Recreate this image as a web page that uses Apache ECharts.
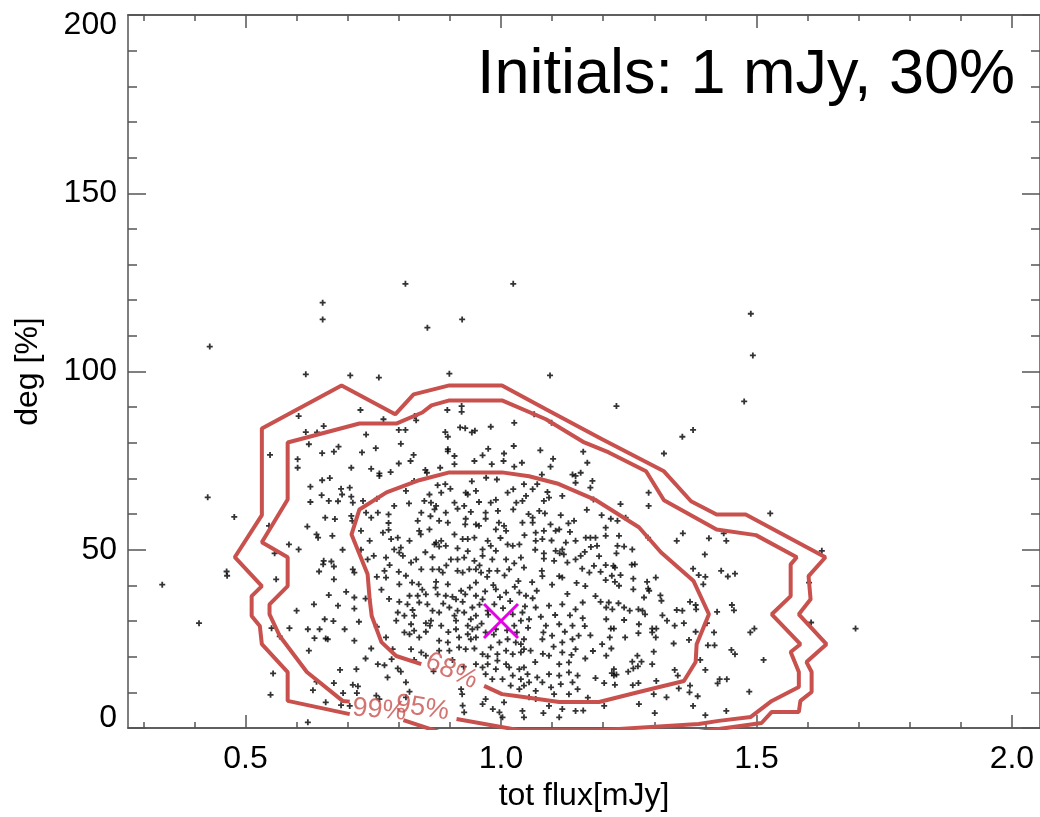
<!DOCTYPE html>
<html><head><meta charset="utf-8">
<script src="https://cdn.jsdelivr.net/npm/echarts@6/dist/echarts.min.js"></script>
<style>html,body{margin:0;padding:0;background:#fff}#c{width:1040px;height:817px}</style>
</head><body><div id="c"></div>
<script>
const X_MIN = 0.27, X_MAX = 2.055, Y_MIN = 0, Y_MAX = 200;
const xMajorTicks = [0.5, 1.0, 1.5, 2.0];
const xMinorTicks = [0.3,0.4,0.6,0.7,0.8,0.9,1.1,1.2,1.3,1.4,1.6,1.7,1.8,1.9];
const titleText = 'Initials: 1 mJy, 30%';
const xName = 'tot flux[mJy]';
const yName = 'deg [%]';
const initialPoint = [[1.0, 30]];

const contour68 = [[0.967,11.8],[1.002,9.5],[1.03,9.0],[1.114,7.3],[1.192,7.3],[1.27,10.1],[1.358,13.2],[1.381,18.5],[1.383,23.5],[1.407,31.9],[1.377,41.2],[1.313,49.3],[1.27,56.3],[1.186,63.9],[1.11,68.6],[1.055,70.6],[1.002,71.7],[0.899,71.7],[0.84,69.5],[0.776,66.1],[0.723,61.3],[0.7075,54.3],[0.739,43.1],[0.743,36.1],[0.747,31.4],[0.766,24.1],[0.795,20.2],[0.844,17.9]];
const contour95 = [[0.913,2.5],[1.036,-0.6],[1.192,-0.6],[1.387,1.1],[1.426,2.0],[1.489,3.1],[1.53,7.6],[1.583,11.5],[1.583,15.7],[1.567,21.3],[1.586,23.5],[1.53,31.9],[1.567,37.0],[1.567,45.9],[1.579,47.9],[1.499,54.1],[1.422,55.7],[1.319,63.9],[1.284,72.0],[1.211,77.3],[1.163,80.1],[1.088,86.6],[1.002,91.9],[0.899,91.9],[0.864,90.5],[0.846,88.5],[0.795,85.4],[0.723,85.4],[0.5825,80.1],[0.5825,64.1],[0.532,52.1],[0.5825,47.9],[0.5825,39.8],[0.547,34.7],[0.547,31.9],[0.567,25.8],[0.62,15.7],[0.69,7.6],[0.704,7.4]];
const contour99 = [[0.809,2.2],[0.879,-1.1],[1.387,-1.1],[1.426,-0.3],[1.51,1.4],[1.53,4.5],[1.583,4.5],[1.586,7.6],[1.608,10.1],[1.608,15.7],[1.598,18.5],[1.637,23.5],[1.583,31.9],[1.606,36.1],[1.602,42.6],[1.635,47.9],[1.479,59.9],[1.422,59.9],[1.372,63.6],[1.319,72.0],[1.198,81.0],[1.088,89.4],[1.002,96.1],[0.899,96.1],[0.829,93.6],[0.793,88.0],[0.688,96.1],[0.532,84.0],[0.532,59.7],[0.479,47.9],[0.532,39.8],[0.512,37.0],[0.512,31.4],[0.528,28.6],[0.532,23.5],[0.5825,15.7],[0.5825,7.6],[0.704,3.9]];
const contourLabelText = ['68%', '95%', '99%'];
const contourLabelPos = [[0.903,16.0],[0.846,5.6],[0.762,5.0]];
const contourLabelRot = [-24, -9, -5];

const ptsOutliers = [[0.337,40.2],[0.409,29.4],[0.430,107.0],[0.426,64.7],[0.478,59.2],[0.463,43.9],[0.464,42.7],[0.549,9.3],[0.554,15.3],[0.622,1.6],[0.651,119.3],[0.651,114.6],[0.813,124.6],[0.856,112.3],[0.924,114.6],[1.024,124.6],[1.489,116.2],[1.493,104.5],[1.476,91.6],[1.226,90.3],[1.096,98.9],[0.618,99.2],[0.705,98.9],[0.761,98.3],[0.899,99.4],[1.355,81.7],[1.376,83.6],[1.319,77.0],[1.527,60.2],[1.628,49.7],[1.694,27.9]];
const ptsNW = [[0.604,87.5],[0.725,89.2],[0.770,86.6],[0.831,87.5],[0.834,86.3],[0.923,90.3],[0.923,88.7],[0.895,89.2],[0.548,76.6],[0.618,83.0],[0.640,82.9],[0.653,84.7],[0.624,79.6],[0.602,75.4],[0.602,73.0],[0.546,56.7],[0.650,77.1],[0.673,77.5],[0.682,78.9],[0.728,77.3],[0.755,78.5],[0.736,82.3],[0.800,83.6],[0.813,83.6],[0.804,79.7],[0.829,76.6],[0.896,78.2],[0.896,77.6],[0.909,76.3],[0.891,83.0],[0.896,81.7],[0.920,84.3],[0.930,84.1],[0.943,82.9],[0.949,83.4],[0.650,69.5],[0.665,70.1],[0.627,67.7],[0.649,65.3],[0.627,63.4],[0.663,63.7],[0.681,63.6],[0.656,59.0],[0.675,58.6],[0.621,56.5]];
const ptsNE = [[0.980,84.5],[1.026,85.6],[1.065,88.0],[1.099,85.6],[0.975,78.3],[1.025,79.1],[1.077,77.9],[1.161,77.5],[0.964,76.5],[1.006,77.0],[1.102,75.5],[0.971,70.2],[0.992,69.7]];
const ptsE = [[1.097,73.3],[1.169,74.4],[1.080,71.1],[1.140,71.1],[1.146,70.7],[1.156,71.6],[1.146,68.8],[1.179,69.3],[1.175,67.4],[1.071,68.4],[1.062,67.0],[1.289,66.0],[1.289,62.3],[1.234,62.8],[1.244,59.0],[1.091,66.2],[1.094,64.6],[1.084,63.7],[1.120,65.1],[1.181,64.1],[1.075,60.9],[1.086,60.2],[1.117,59.7],[1.062,59.0],[1.062,57.6],[1.097,57.1],[1.132,57.4],[1.143,58.1],[1.215,58.7],[1.228,58.1],[1.205,56.2],[1.114,55.7],[1.107,55.3],[1.084,55.3],[1.068,54.8],[1.166,53.4],[1.175,53.4],[1.185,53.4],[1.188,51.1],[1.146,52.5],[1.127,52.0],[1.081,53.0],[1.068,52.5],[1.067,50.0],[1.084,49.0],[1.107,49.7],[1.120,50.1],[1.115,49.0],[1.123,48.7],[1.164,49.4],[1.146,47.3],[1.156,48.3],[1.084,47.5],[1.104,46.9],[1.130,46.4],[1.182,45.5],[1.080,44.1],[1.081,42.6],[1.114,42.6],[1.120,42.2],[1.159,44.7]];
const ptsCenterUpper = [[0.707,73.0],[0.746,72.7],[0.762,71.4],[0.762,70.7],[0.784,71.8],[0.800,74.2],[0.823,74.9],[0.852,72.4],[0.855,71.6],[0.881,73.0],[0.909,74.0],[0.948,74.9],[0.982,74.0],[1.005,74.9],[1.026,73.3],[1.041,74.4],[0.687,67.1],[0.704,67.4],[0.689,65.5],[0.707,64.9],[0.710,63.2],[0.730,63.7],[0.707,59.5],[0.709,58.1],[0.726,55.3],[0.690,50.0],[0.726,50.0],[0.739,47.3],[0.751,48.3],[0.775,47.8],[0.710,44.5],[0.713,43.6],[0.736,60.4],[0.746,59.0],[0.759,60.4],[0.780,59.9],[0.791,62.3],[0.814,66.5],[0.830,69.3],[0.844,60.4],[0.860,65.5],[0.870,61.3],[0.873,62.3],[0.876,68.1],[0.891,68.4],[0.901,67.1],[0.883,66.0],[0.863,63.2],[0.850,63.7],[0.892,60.4],[0.879,58.1],[0.896,57.6],[0.909,63.2],[0.931,66.0],[0.935,65.5],[0.951,66.5],[0.928,62.3],[0.957,63.4],[0.980,63.2],[0.990,64.0],[0.970,60.4],[0.941,60.6],[0.951,57.1],[0.957,56.7],[0.996,57.6],[1.006,56.7],[1.010,55.3],[0.990,55.7],[0.930,57.1],[0.931,58.7],[0.970,58.7],[1.024,61.3],[1.042,63.7],[1.049,65.1],[1.013,66.0],[1.045,68.4],[1.024,67.0],[1.042,57.6],[0.769,54.8],[0.780,55.6],[0.798,53.4],[0.804,50.6],[0.791,50.1],[0.801,49.2],[0.808,48.3],[0.785,53.0],[0.821,52.5],[0.840,55.3],[0.860,55.7],[0.843,54.3],[0.870,51.5],[0.879,50.9],[0.873,52.0],[0.883,52.5],[0.892,51.1],[0.909,54.3],[0.925,53.0],[0.935,53.0],[0.948,53.4],[0.974,52.5],[0.980,51.1],[0.964,50.1],[0.990,49.7],[1.013,51.5],[1.023,51.1],[1.036,51.5],[0.902,47.3],[0.915,47.3],[0.928,47.8],[0.948,46.9],[0.964,48.3],[0.983,47.3],[1.010,47.3],[1.039,47.8],[0.866,44.5],[0.879,44.5],[0.886,43.6],[0.915,44.1],[0.925,43.6],[0.938,44.5],[0.951,44.5],[0.961,43.6],[0.977,44.1],[0.993,44.1],[1.016,44.5],[1.045,45.0],[0.834,47.3],[0.824,46.4],[0.844,44.5],[0.743,52.5],[0.782,45.7],[0.800,43.8],[0.772,44.1],[0.757,42.4],[0.775,42.2],[0.814,42.7]];
const ptsW = [[0.557,49.0],[0.560,41.7],[0.585,51.5],[0.604,50.1],[0.639,54.3],[0.642,53.4],[0.670,53.9],[0.653,46.9],[0.652,45.9],[0.668,46.7],[0.673,45.3],[0.644,43.9],[0.673,41.7],[0.663,37.3],[0.634,34.7],[0.600,32.9],[0.681,34.3],[0.655,30.5],[0.672,30.0],[0.622,27.7],[0.645,27.7],[0.657,25.1],[0.661,24.9],[0.635,25.2],[0.586,28.0],[0.551,28.0],[0.567,25.7],[0.624,21.7],[0.685,16.3],[0.673,12.6],[0.691,9.8],[0.718,9.8],[0.632,10.6],[0.639,13.0],[0.657,7.2]];
const ptsCenterLower = [[0.697,38.2],[0.713,36.6],[0.735,36.3],[0.713,33.5],[0.722,29.8],[0.694,27.7],[0.713,24.5],[0.746,22.3],[0.735,19.5],[0.788,22.1],[0.759,17.9],[0.772,17.6],[0.717,16.5],[0.798,16.7],[0.804,15.8],[0.778,14.2],[0.710,12.1],[0.720,11.7],[0.814,12.8],[0.756,9.1],[0.801,40.3],[0.826,40.8],[0.839,40.3],[0.873,41.0],[0.896,40.3],[0.922,38.5],[0.930,37.5],[0.951,40.8],[0.985,40.1],[0.990,38.9],[1.010,38.0],[1.036,38.0],[1.049,37.1],[0.821,37.1],[0.837,37.1],[0.853,37.5],[0.801,35.4],[0.817,34.7],[0.840,35.2],[0.856,34.7],[0.866,32.9],[0.879,32.4],[0.899,33.8],[0.915,32.9],[0.909,31.5],[0.928,32.4],[0.941,30.5],[0.951,31.5],[0.912,30.1],[0.798,32.4],[0.811,31.5],[0.830,31.5],[0.795,30.1],[0.824,29.1],[0.863,30.1],[0.861,28.7],[0.883,28.7],[0.912,27.7],[0.935,28.7],[0.944,27.7],[0.954,28.2],[0.811,26.8],[0.821,26.3],[0.830,27.3],[0.853,27.0],[0.840,25.4],[0.879,24.5],[0.896,24.0],[0.918,25.4],[0.935,26.3],[0.941,24.9],[0.951,25.4],[0.824,22.1],[0.844,21.2],[0.853,20.3],[0.879,21.7],[0.899,21.7],[0.918,22.6],[0.931,22.1],[0.948,22.3],[0.964,20.7],[0.974,20.1],[0.980,22.6],[0.993,20.7],[1.010,21.7],[1.023,20.7],[1.039,21.2],[1.045,22.1],[1.039,23.5],[1.029,24.0],[1.045,24.9],[1.013,24.9],[0.997,24.0],[0.970,26.8],[0.990,27.7],[1.026,28.7],[1.039,30.1],[1.023,31.9],[1.042,32.4],[0.974,32.9],[0.987,34.7],[0.964,36.1],[0.951,37.1],[0.912,36.1],[0.892,37.1],[0.876,37.5],[0.951,17.9],[0.964,17.0],[0.974,17.9],[0.990,16.5],[0.993,18.9],[1.010,17.9],[1.016,17.0],[1.023,14.7],[1.036,16.5],[1.045,17.0],[1.039,13.7],[1.003,13.7],[0.983,13.7],[0.970,15.1],[1.019,11.9],[1.036,10.9],[1.045,11.9]];
const ptsS = [[0.687,6.4],[0.704,6.2],[0.762,8.1],[0.814,8.6],[0.821,10.2],[0.922,10.9],[0.924,9.5],[0.925,6.3],[0.928,4.4],[0.964,6.7],[0.970,8.1],[0.984,5.3],[0.997,4.4],[1.003,3.0],[1.006,7.2],[1.042,4.8],[1.045,3.0],[1.068,8.1],[1.094,6.2],[1.114,3.0],[1.120,5.3],[1.146,4.8],[1.055,12.8],[1.068,10.4],[1.081,12.8],[1.098,11.4],[1.117,12.3],[1.140,12.8],[1.150,10.9],[1.133,9.5],[1.104,9.5],[1.052,15.1],[1.071,14.2],[1.094,15.1],[1.114,14.7],[1.133,15.6],[1.150,14.7],[1.114,17.9],[1.133,18.4],[1.094,20.3],[1.120,21.2],[1.146,22.1],[1.081,24.9],[1.100,25.9],[1.120,24.0],[1.140,24.9],[1.088,28.7],[1.114,29.1],[1.140,28.7],[1.055,30.5],[1.068,33.8],[1.094,34.3],[1.120,34.7],[1.146,33.3],[1.070,38.5],[1.100,40.2],[1.130,37.6],[1.165,39.8],[1.185,37.0],[1.160,30.8],[1.175,26.0],[1.165,19.5],[1.185,14.0],[1.170,8.5],[1.180,21.6],[1.160,35.2]];
const ptsSE = [[1.356,54.6],[1.344,52.5],[1.407,53.2],[1.436,54.6],[1.441,52.5],[1.399,48.7],[1.431,44.1],[1.444,42.5],[1.458,43.3],[1.376,44.7],[1.387,42.9],[1.400,42.4],[1.396,40.3],[1.370,35.4],[1.381,34.5],[1.382,33.3],[1.423,32.6],[1.452,34.5],[1.456,33.0],[1.603,40.8],[1.607,29.6],[1.496,27.9],[1.488,26.8],[1.381,27.0],[1.403,29.4],[1.417,26.8],[1.405,23.2],[1.418,23.2],[1.390,19.1],[1.400,16.3],[1.451,21.9],[1.458,20.7],[1.514,19.1],[1.442,13.7],[1.428,13.7],[1.424,12.5],[1.486,10.2],[1.370,11.9],[1.369,10.0],[1.385,8.9],[1.376,6.2],[1.400,3.6],[1.441,4.8],[1.348,11.1],[1.340,16.3],[1.346,14.7],[1.299,9.5],[1.324,8.6],[1.301,4.2],[1.270,6.7],[1.202,6.2],[1.288,53.4],[1.205,53.9],[1.231,53.9],[1.228,51.1],[1.241,50.9],[1.257,50.1],[1.226,49.0],[1.256,45.8],[1.262,45.9],[1.220,45.5],[1.223,45.0],[1.205,45.7],[1.195,43.8],[1.217,42.7],[1.234,42.9],[1.205,41.5],[1.223,41.0],[1.231,39.9],[1.259,41.9],[1.259,38.9],[1.286,41.0],[1.303,42.2],[1.288,39.1],[1.290,38.5],[1.312,37.2],[1.314,35.7],[1.280,36.6],[1.195,35.4],[1.211,35.2],[1.230,35.0],[1.206,33.8],[1.241,33.8],[1.269,33.3],[1.277,32.9],[1.252,32.9],[1.218,33.3],[1.282,31.9],[1.316,31.6],[1.344,33.1],[1.355,32.9],[1.325,30.1],[1.340,28.7],[1.358,29.4],[1.270,29.1],[1.206,30.5],[1.241,30.3],[1.215,27.9],[1.221,27.9],[1.269,26.6],[1.296,27.9],[1.296,26.8],[1.304,27.9],[1.303,25.4],[1.243,25.4],[1.213,25.4],[1.198,23.5],[1.216,22.3],[1.206,20.3],[1.338,23.7],[1.368,24.7],[1.299,21.4],[1.267,20.3],[1.257,18.6],[1.275,18.6],[1.268,17.3],[1.259,16.7],[1.296,17.9],[1.249,15.8],[1.221,16.5],[1.217,15.4],[1.221,14.7],[1.226,15.0],[1.202,12.6],[1.223,12.1],[1.258,12.0],[1.269,12.6],[1.304,13.2]];
const ptsCoreExtra = [[0.962,29.3],[0.975,31.8],[0.986,26.2],[1.004,33.6],[1.012,27.4],[1.018,35.6],[1.031,26.8],[1.047,34.1],[1.053,28.1],[0.958,34.6],[0.944,33.8],[0.969,38.3],[0.998,36.7],[1.027,39.6],[1.062,36.4],[1.078,31.2],[1.083,26.8],[1.106,31.7],[1.125,27.0],[1.135,31.6],[1.152,25.9],[1.164,28.6],[1.082,20.8],[1.103,22.8],[1.058,21.7],[1.067,18.5],[1.138,20.5],[0.905,36.8],[0.887,34.9],[0.872,39.4],[0.846,38.8],[0.827,33.1],[0.853,29.4],[0.897,26.9],[0.925,35.4],[0.939,39.4],[1.007,42.8],[1.034,41.2],[0.973,42.4],[0.958,45.6],[1.026,46.2],[1.061,40.9],[1.148,40.7],[1.173,43.6],[1.192,48.2],[1.176,50.8],[1.135,55.0],[1.099,52.6],[0.935,49.6],[0.915,50.4],[0.852,49.3],[0.866,47.9],[0.893,45.6],[0.999,53.3],[1.046,54.1],[0.837,58.1],[0.862,59.4],[0.915,61.5],[0.994,60.9],[1.054,60.0],[0.820,63.0],[0.780,57.5],[0.757,64.3],[0.943,69.2],[1.030,63.2],[1.168,61.2],[1.197,59.7],[0.766,38.8],[0.781,36.2],[0.757,28.4],[0.775,25.4],[0.786,19.3],[0.830,19.1],[0.868,15.9],[0.905,19.1],[0.927,17.2],[1.055,8.6],[1.083,4.2],[1.161,4.9]];

const FONT = '"Liberation Sans", Arial, Helvetica, sans-serif';
const RED = '#c8514e';
const AX = '#555';
const allPoints = [].concat(ptsOutliers, ptsNW, ptsNE, ptsE, ptsCenterUpper, ptsW, ptsCenterLower, ptsS, ptsSE, ptsCoreExtra);

const chart = echarts.init(document.getElementById('c'), null, {renderer: 'canvas'});
const axLine = {show: true, onZero: false, lineStyle: {color: AX, width: 1.5}};
function xAx(pos, ticks, len, labels) {
  return {
    type: 'value', position: pos, min: X_MIN, max: X_MAX, gridIndex: 0,
    axisLine: axLine, splitLine: {show: false},
    axisTick: {show: true, inside: true, length: len, customValues: ticks, lineStyle: {color: AX, width: 1.5}},
    axisLabel: labels ? {show: true, customValues: ticks, formatter: v => v.toFixed(1), fontSize: 32, margin: 15, color: '#000', fontFamily: FONT} : {show: false},
    name: labels ? xName : '', nameLocation: 'middle', nameGap: 52,
    nameTextStyle: {fontSize: 32, color: '#000', fontFamily: FONT}
  };
}
function yAx(pos, labels) {
  return {
    type: 'value', position: pos, min: Y_MIN, max: Y_MAX, interval: 50,
    axisLine: axLine, splitLine: {show: false},
    axisTick: {show: true, inside: true, length: 18, lineStyle: {color: AX, width: 1.5}},
    minorTick: {show: true, splitNumber: 5, length: 9, lineStyle: {color: AX, width: 1.5}},
    axisLabel: labels ? {show: true, fontSize: 32, lineHeight: 20, margin: 11, color: '#000', fontFamily: FONT, verticalAlignMinLabel: 'bottom', verticalAlignMaxLabel: 'top'} : {show: false},
    name: labels ? yName : '', nameLocation: 'middle', nameGap: 84,
    nameTextStyle: {fontSize: 32, color: '#000', fontFamily: FONT}
  };
}

const labelData = contourLabelText.map((t, i) => ({
  value: contourLabelPos[i],
  label: {show: true, formatter: t, rotate: contourLabelRot[i], position: 'inside'}
}));

chart.setOption({
  animation: false,
  backgroundColor: '#fff',
  grid: {left: 128, top: 15, right: -2, bottom: 88, containLabel: false},
  xAxis: [xAx('bottom', xMajorTicks, 13, true), xAx('bottom', xMinorTicks, 6, false), xAx('top', xMajorTicks, 13, false), xAx('top', xMinorTicks, 6, false)],
  yAxis: [yAx('left', true), yAx('right', false)],
  graphic: [{type: 'text', right: 25, top: 44, style: {text: titleText, font: 'normal 63px ' + FONT, fill: '#000'}}],
  series: [
    {type: 'scatter', data: allPoints, symbol: 'path://M3.5,0H6.5V3.5H10V6.5H6.5V10H3.5V6.5H0V3.5H3.5Z', symbolSize: 6, itemStyle: {color: '#000'}, silent: true, z: 2},
    {type: 'line', data: contour68, showSymbol: false, clip: true, lineStyle: {color: RED, width: 4}, silent: true, z: 3},
    {type: 'line', data: contour95, showSymbol: false, clip: true, lineStyle: {color: RED, width: 4}, silent: true, z: 3},
    {type: 'line', data: contour99, showSymbol: false, clip: true, lineStyle: {color: RED, width: 4}, silent: true, z: 3},
    {type: 'scatter', data: labelData, symbolSize: 0, silent: true, z: 4,
      label: {show: true, color: RED, fontSize: 27, fontFamily: FONT}},
    {type: 'custom', data: initialPoint, silent: true, z: 5,
      renderItem: (params, api) => {
        const p = api.coord([api.value(0), api.value(1)]);
        const s = 17;
        const st = {stroke: '#e600e6', lineWidth: 3};
        return {type: 'group', children: [
          {type: 'line', shape: {x1: p[0]-s, y1: p[1]-s, x2: p[0]+s, y2: p[1]+s}, style: st},
          {type: 'line', shape: {x1: p[0]-s, y1: p[1]+s, x2: p[0]+s, y2: p[1]-s}, style: st}
        ]};
      }}
  ]
});
</script>
</body></html>
